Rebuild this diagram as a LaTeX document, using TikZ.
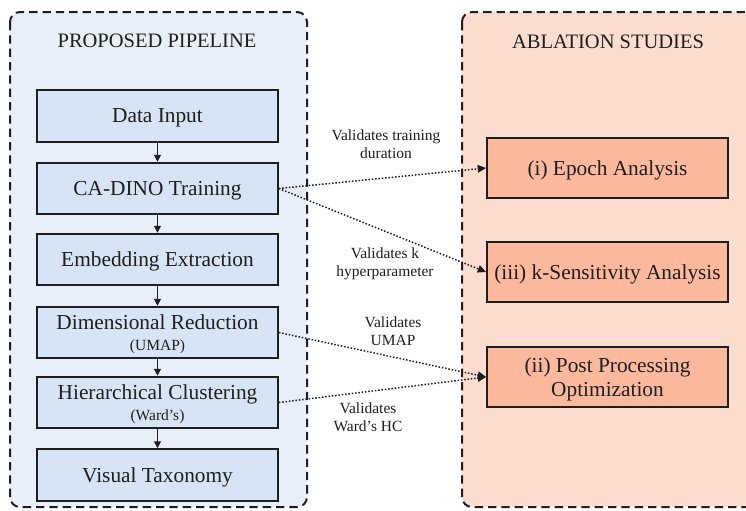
\documentclass[tikz,border=0pt]{standalone}
\usepackage{fontspec}
\setmainfont{Liberation Serif}
\usetikzlibrary{arrows.meta}
\definecolor{pipebg}{HTML}{E9EFF9}
\definecolor{pipebox}{HTML}{D6E4F5}
\definecolor{ablbg}{HTML}{FDDDD0}
\definecolor{ablbox}{HTML}{FDB99D}
\definecolor{ink}{HTML}{1E1E1E}
\newcommand\subnote{\fontsize{9.3}{10}\selectfont}
\tikzset{
  panel/.style={draw=ink, line width=1.2pt, dash pattern=on 5pt off 3pt, rounded corners=6pt},
  pipestep/.style={draw=ink, fill=pipebox, line width=1.1pt, minimum width=144.6pt, minimum height=31pt,
    inner sep=0pt, text depth=0pt, align=center, font=\fontsize{12.8}{13.5}\selectfont, text=ink},
  ablstep/.style={draw=ink, fill=ablbox, line width=1.1pt, minimum width=144.6pt, minimum height=36pt,
    inner sep=0pt, text depth=0pt, align=center, font=\fontsize{12.8}{14.5}\selectfont, text=ink},
  paneltitle/.style={font=\fontsize{12.3}{13}\selectfont, text=ink},
  note/.style={font=\fontsize{9.3}{11}\selectfont, align=center, text=ink},
  flow/.style={draw=ink, line width=0.7pt, -{Triangle[length=4.2pt,width=4.2pt]}},
  link/.style={draw=ink, line width=0.9pt, dash pattern=on 0.9pt off 1.1pt, -{Triangle[length=5pt,width=4.5pt]}}
}
\begin{document}
\begin{tikzpicture}[x=0.6pt, y=-0.6pt]
\useasboundingbox (0,0) rectangle (746,510);
\clip (0,0) rectangle (746,510);

% panels
\draw[panel, fill=pipebg] (10,12) rectangle (307,507);
\draw[panel, fill=ablbg] (462,12) rectangle (780,507);

\node[paneltitle] (ptitle) at (157,41) {PROPOSED PIPELINE};
\node[paneltitle] (atitle) at (608,42) {ABLATION STUDIES};

% pipeline steps
\node[pipestep] (input) at (157.5,116) {Data Input};
\node[pipestep] (train) at (157.5,188.5) {CA-DINO Training};
\node[pipestep] (embed) at (157.5,259.5) {Embedding Extraction};
\node[pipestep] (reduce) at (157.5,332.5) {Dimensional Reduction\\[-1pt]{\subnote (UMAP)}};
\node[pipestep] (cluster) at (157.5,402.5) {Hierarchical Clustering\\[-1pt]{\subnote (Ward's)}};
\node[pipestep] (taxo) at (157.5,475) {Visual Taxonomy};

\draw[flow] (input) -- (train);
\draw[flow] (train) -- (embed);
\draw[flow] (embed) -- (reduce);
\draw[flow] (reduce) -- (cluster);
\draw[flow] (cluster) -- (taxo);

% ablation studies
\node[ablstep] (epoch) at (607.5,168) {(i) Epoch Analysis};
\node[ablstep] (ksens) at (607.5,272) {(iii) k-Sensitivity Analysis};
\node[ablstep] (post) at (607.5,377) {(ii) Post Processing\\Optimization};

% validation links
\draw[link] (train.east) -- (epoch.west);
\draw[link] (train.east) -- (ksens.west);
\draw[link] (reduce.east) -- (post.west);
\draw[link] (cluster.east) -- (post.west);

\node[note] (n1) at (386,144) {Validates training\\duration};
\node[note] (n2) at (385,264) {Validates k\\hyperparameter};
\node[note] (n3) at (393,331) {Validates\\UMAP};
\node[note] (n4) at (368,417) {Validates\\Ward's HC};
\end{tikzpicture}
\end{document}
